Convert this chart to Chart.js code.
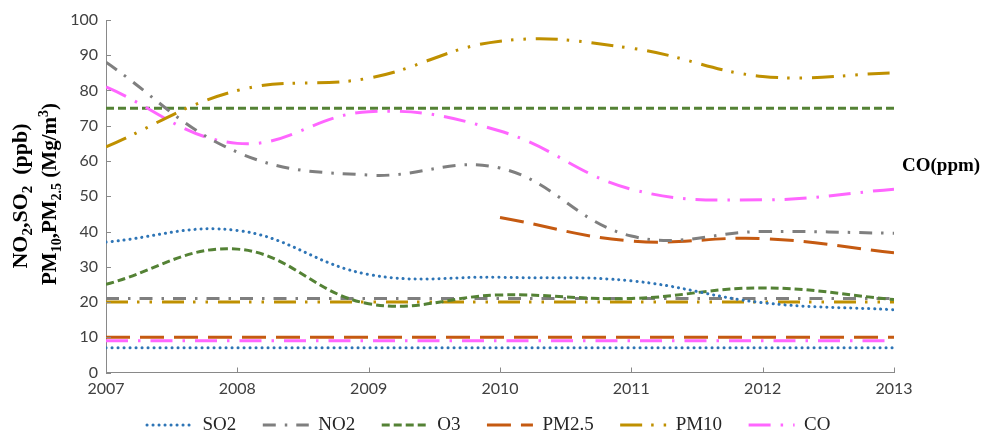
<!DOCTYPE html>
<html><head><meta charset="utf-8">
<script src="https://cdn.jsdelivr.net/npm/chart.js@4/dist/chart.umd.min.js"></script>
<style>html,body{margin:0;padding:0;background:#fff;}</style>
</head><body>
<canvas id="c" width="987" height="433"></canvas>
<script>
// ---- data ----
const years = [2007, 2008, 2009, 2010, 2011, 2012, 2013];
const so2  = [37, 40.3, 27.8, 27, 26, 19.8, 17.8];
const no2  = [88, 62.5, 56, 58, 38.7, 40, 39.5];
const o3   = [25, 35, 19.5, 22, 21, 24, 20.7];
const pm25 = [null, null, null, 44, 37.3, 38, 34];
const pm10 = [64, 80, 83.5, 94, 92, 84, 85];
const co   = [81, 65, 74, 68.5, 52, 49, 52];
const seriesNames = ['SO2', 'NO2', 'O3', 'PM2.5', 'PM10', 'CO'];
const limitValues = [7, 21, 75, 10, 20, 9];   // standard lines, same order as series
const yTicks = [0, 10, 20, 30, 40, 50, 60, 70, 80, 90, 100];
// y-axis title pieces: [text, kind] kind: '' normal, 'sub', 'sup'
const yTitleLine1 = [['NO', ''], ['2', 'sub'], [',SO', ''], ['2', 'sub'], ['  (ppb)', '']];
const yTitleLine2 = [['PM', ''], ['10', 'sub'], [',PM', ''], ['2.5', 'sub'], [' (Mg/m', ''], ['3', 'sup'], [')', '']];
const sideLabel = 'CO(ppm)';

// ---- styles ----
const colors = ['#2E75B6', '#7F7F7F', '#548235', '#C55A11', '#BF9000', '#FF66FF'];
const dashes = [[0.1, 5.9], [13, 9, 2.5, 9], [8, 4], [24, 10], [22, 9, 2.5, 10, 2.5, 10], [22, 10, 2.5, 10]];
const caps = ['round', 'butt', 'butt', 'butt', 'butt', 'butt'];
const widths = [3, 3, 3, 3, 3, 3];

const seriesValues = [so2, no2, o3, pm25, pm10, co];
const toPoints = arr => years.map((x, i) => ({x, y: arr[i]})).filter(p => p.y !== null);

const datasets = [];
seriesValues.forEach((arr, i) => {
  datasets.push({
    label: seriesNames[i], data: toPoints(arr),
    borderColor: colors[i], backgroundColor: colors[i],
    borderDash: dashes[i], borderCapStyle: caps[i], borderWidth: widths[i],
    tension: 0.4, pointRadius: 0, fill: false
  });
});
limitValues.forEach((v, i) => {
  datasets.push({
    label: seriesNames[i] + ' limit',
    data: [{x: years[0], y: v}, {x: years[years.length - 1], y: v}],
    borderColor: colors[i], backgroundColor: colors[i],
    borderDash: dashes[i], borderCapStyle: caps[i], borderWidth: widths[i],
    tension: 0, pointRadius: 0, fill: false
  });
});

const SERIF = '"Liberation Serif", "DejaVu Serif", serif';
function pieceFont(kind, size) {
  return 'bold ' + (kind !== '' ? Math.round(size * 0.66) : size) + 'px ' + SERIF;
}
function drawRichCentered(ctx, pieces, size) {
  let total = 0;
  pieces.forEach(([t, kind]) => { ctx.font = pieceFont(kind, size); total += ctx.measureText(t).width; });
  let cx = -total / 2;
  pieces.forEach(([t, kind]) => {
    ctx.font = pieceFont(kind, size);
    const dy = kind === 'sub' ? size * 0.22 : (kind === 'sup' ? -size * 0.38 : 0);
    ctx.fillText(t, cx, dy);
    cx += ctx.measureText(t).width;
  });
}

const extras = {
  id: 'extras',
  afterDraw(chart) {
    const {ctx, scales: {x, y}} = chart;
    ctx.save();
    ctx.strokeStyle = '#898989';
    ctx.lineWidth = 1;
    ctx.beginPath();
    yTicks.forEach(v => {
      const py = Math.round(y.getPixelForValue(v)) + 0.5;
      ctx.moveTo(x.left, py); ctx.lineTo(x.left + 5, py);
    });
    years.forEach(v => {
      const px = Math.round(x.getPixelForValue(v)) + 0.5;
      ctx.moveTo(px, y.bottom); ctx.lineTo(px, y.bottom - 5);
    });
    ctx.stroke();
    ctx.fillStyle = '#000';
    ctx.textAlign = 'left';
    ctx.textBaseline = 'alphabetic';
    ctx.save(); ctx.translate(27, 196); ctx.rotate(-Math.PI / 2); drawRichCentered(ctx, yTitleLine1, 22); ctx.restore();
    ctx.save(); ctx.translate(56, 194); ctx.rotate(-Math.PI / 2); drawRichCentered(ctx, yTitleLine2, 21); ctx.restore();
    ctx.font = 'bold 19px ' + SERIF;
    ctx.textBaseline = 'middle';
    ctx.fillText(sideLabel, 902, 166);
    ctx.restore();
  }
};

const tickFont = {family: 'Lato, "Open Sans", sans-serif', size: 16};
const baseLabels = Chart.defaults.plugins.legend.labels.generateLabels;
new Chart(document.getElementById('c'), {
  type: 'line',
  data: {datasets},
  options: {
    responsive: false, animation: false,
    layout: {padding: {left: 0, right: 0, top: 20, bottom: -11.5}},
    plugins: {
      tooltip: {enabled: false},
      legend: {
        position: 'bottom',
        labels: {
          generateLabels: chart => baseLabels(chart)
            .filter(it => it.datasetIndex < seriesNames.length)
            .map(it => {
              const ds = chart.data.datasets[it.datasetIndex];
              it.text = it.text + '\u2002';
              it.lineDash = ds.borderDash; it.lineCap = ds.borderCapStyle;
              it.lineWidth = ds.borderWidth; it.strokeStyle = ds.borderColor;
              it.pointStyle = 'line';
              return it;
            }),
          usePointStyle: true, pointStyle: 'line', pointStyleWidth: 46,
          padding: 17, color: '#262626',
          font: {family: SERIF, size: 19}
        }
      }
    },
    scales: {
      x: {
        type: 'linear', min: 2007, max: 2013,
        ticks: {stepSize: 1, callback: v => String(v), font: tickFont, color: '#404040', padding: 7, maxRotation: 0, autoSkip: false},
        grid: {display: false, drawTicks: false},
        border: {color: '#898989', width: 1},
        afterFit: s => { s.height = 26; }
      },
      y: {
        min: 0, max: 100,
        ticks: {stepSize: 10, font: tickFont, color: '#404040', padding: 8},
        grid: {display: false, drawTicks: false},
        border: {color: '#898989', width: 1},
        afterFit: s => { s.width = 106; }
      },
      spacer: {
        position: 'right', min: 0, max: 100,
        ticks: {display: false}, grid: {display: false, drawTicks: false}, border: {display: false},
        afterFit: s => { s.width = 93; }
      }
    }
  },
  plugins: [extras]
});
</script>
</body></html>
